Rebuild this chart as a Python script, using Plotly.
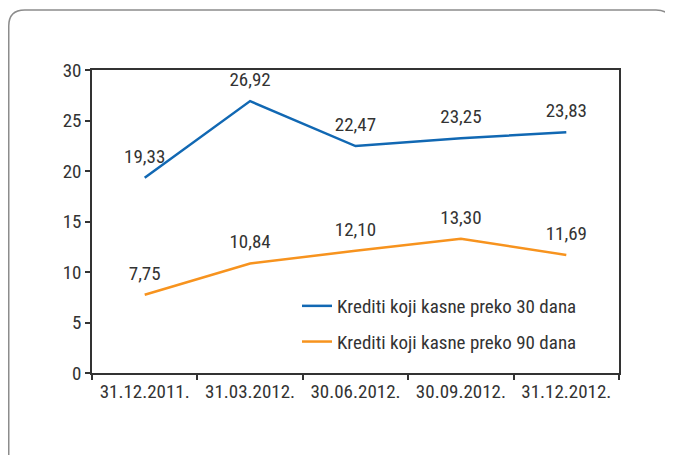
import plotly.graph_objects as go

# Datumi i vrijednosti (%)
datumi = ['31.12.2011.', '31.03.2012.', '30.06.2012.', '30.09.2012.', '31.12.2012.']
kasne_30 = [19.33, 26.92, 22.47, 23.25, 23.83]
kasne_90 = [7.75, 10.84, 12.10, 13.30, 11.69]
naziv_30 = 'Krediti koji kasne preko 30 dana'
naziv_90 = 'Krediti koji kasne preko 90 dana'
y_ticks = [0, 5, 10, 15, 20, 25, 30]

PLAVA = '#1168b3'
NARANCASTA = '#f7931e'
TEKST = '#333333'
FONT = 'Roboto Condensed, Liberation Sans Narrow, sans-serif'
VEL = 19

# stranica ima 8px margine (body), pa se sve pomice za 8px
OFF = 8
W, H = 673 - OFF, 455 - OFF
L, R, T, B = 92 - OFF, 673 - 619, 70 - OFF, 455 - 373


def px(x, y):
    """piksel stranice -> paper koordinate"""
    x, y = x - OFF, y - OFF
    return (x - L) / (W - L - R), (H - B - y) / (H - T - B)


def fmt(v):
    return f'{v:.2f}'.replace('.', ',')


fig = go.Figure()
for naziv, vrijednosti, boja in [(naziv_30, kasne_30, PLAVA), (naziv_90, kasne_90, NARANCASTA)]:
    fig.add_trace(go.Scatter(
        x=datumi, y=vrijednosti, name=naziv, legendgroup=naziv,
        mode='lines+markers+text',
        marker=dict(size=15, color='rgba(0,0,0,0)'),
        text=[fmt(v) for v in vrijednosti],
        textposition='top center',
        textfont=dict(size=VEL, color=TEKST, family=FONT),
        line=dict(color=boja, width=2.5),
        cliponaxis=False,
    ))

# okvir sa zaobljenim uglovima
r = 16
pts = [(8.75, 470), (8.75, 10 + r), (8.75, 10), (8.75 + r, 10),
       (672 - r, 10), (672, 10), (672, 10 + r), (672, 470)]
p = [px(*q) for q in pts]
path = (f'M {p[0][0]},{p[0][1]} L {p[1][0]},{p[1][1]} Q {p[2][0]},{p[2][1]} {p[3][0]},{p[3][1]} '
        f'L {p[4][0]},{p[4][1]} Q {p[5][0]},{p[5][1]} {p[6][0]},{p[6][1]} L {p[7][0]},{p[7][1]}')
fig.add_shape(type='path', path=path, xref='paper', yref='paper',
              line=dict(color='#8c8c8c', width=1.5), layer='below')

axis_common = dict(showline=True, linecolor='#333333', linewidth=1.5, mirror=True,
                   ticks='outside', ticklen=5, tickcolor='#333333', tickwidth=1.5,
                   showgrid=False, zeroline=False,
                   tickfont=dict(size=VEL, color=TEKST, family=FONT))

fig.update_layout(
    width=W, height=H,
    margin=dict(l=L, r=R, t=T, b=B),
    paper_bgcolor='white', plot_bgcolor='white',
    font=dict(family=FONT, color=TEKST, size=VEL),
    xaxis=dict(type='category', tickson='boundaries', range=[-0.5, len(datumi) - 0.5], **axis_common),
    yaxis=dict(range=[0, 30], tickvals=y_ticks, **axis_common),
    showlegend=True,
    legend=dict(x=px(297, 0)[0], y=px(0, 287)[1], xanchor='left', yanchor='top',
                bgcolor='rgba(0,0,0,0)', tracegroupgap=8,
                font=dict(size=VEL, color=TEKST, family=FONT)),
)

fig.write_html('out.html')
